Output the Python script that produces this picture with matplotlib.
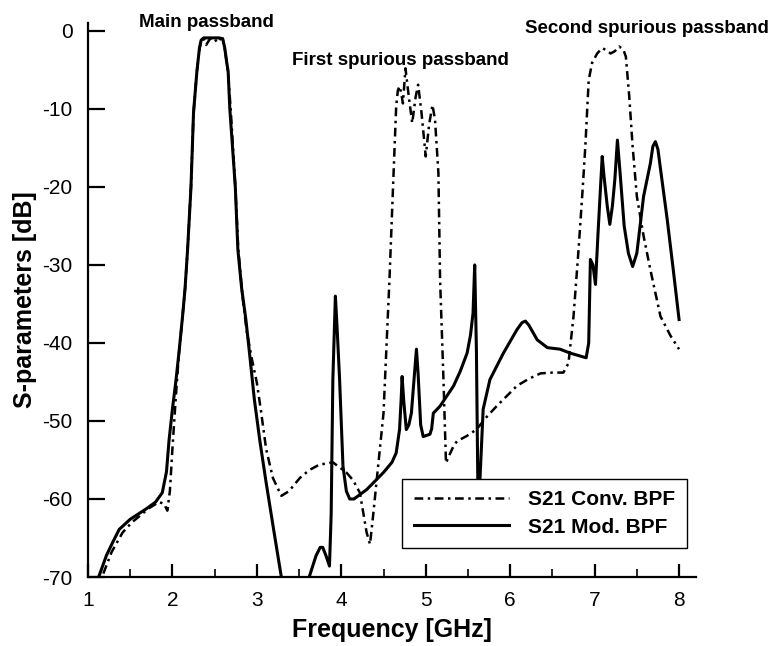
import numpy as np
import matplotlib
matplotlib.use("Agg")
import matplotlib.pyplot as plt

plt.rcParams['font.family'] = ['Liberation Sans', 'DejaVu Sans']

# S21 of the conventional band-pass filter (dash-dot)
f_conv = [1.10, 1.17, 1.28, 1.41, 1.52, 1.61, 1.72, 1.84, 1.90, 1.94, 1.97,
          2.00, 2.04, 2.08, 2.12, 2.15, 2.18, 2.22, 2.25, 2.29, 2.32, 2.34,
          2.37, 2.40, 2.44, 2.47, 2.50, 2.53, 2.57, 2.595, 2.62, 2.64, 2.66,
          2.69, 2.745, 2.78, 2.83, 2.88, 2.94, 3.00, 3.05, 3.11, 3.19, 3.29,
          3.38, 3.51, 3.62, 3.74, 3.90, 4.06, 4.14, 4.22, 4.30, 4.34, 4.38,
          4.42, 4.50, 4.57, 4.62, 4.65, 4.67, 4.69, 4.71, 4.73, 4.76, 4.80,
          4.84, 4.88, 4.91, 4.95, 5.00, 5.04, 5.08, 5.11, 5.15, 5.17, 5.21,
          5.24, 5.27, 5.33, 5.37, 5.49, 5.60, 5.72, 5.84, 5.96, 6.08, 6.22,
          6.36, 6.50, 6.63, 6.69, 6.75, 6.81, 6.86, 6.89, 6.93, 6.97, 7.03,
          7.09, 7.14, 7.19, 7.24, 7.29, 7.34, 7.37, 7.41, 7.45, 7.50, 7.58,
          7.66, 7.78, 7.90, 8.00]
s21_conv = [-72.0, -69.9, -66.8, -64.3, -63.0, -62.2, -61.2, -60.4, -60.6,
            -61.5, -59.0, -53.6, -47.0, -41.0, -36.6, -33.0, -28.0, -20.0,
            -10.5, -5.2, -2.4, -1.3, -1.0, -1.8, -1.1, -0.9, -1.0, -1.5,
            -1.0, -1.0, -2.3, -3.8, -5.5, -10.0, -20.0, -28.0, -34.0, -38.5,
            -42.0, -45.1, -48.8, -53.6, -57.3, -59.6, -59.0, -57.3, -56.3,
            -55.6, -55.3, -56.6, -57.6, -59.2, -64.3, -65.8, -61.8, -57.5,
            -49.0, -32.0, -18.0, -9.7, -7.6, -7.1, -8.0, -9.3, -4.8, -8.5,
            -11.8, -8.5, -6.9, -10.5, -16.1, -12.0, -9.5, -11.4, -18.2,
            -31.9, -44.7, -55.4, -54.6, -53.2, -52.6, -51.9, -51.1, -49.5,
            -48.1, -46.8, -45.5, -44.6, -43.9, -43.8, -43.8, -42.6, -36.6,
            -28.0, -20.0, -14.8, -6.3, -4.1, -2.9, -2.2, -2.5, -2.9, -2.6,
            -2.0, -2.4, -3.3, -8.4, -14.8, -21.2, -26.3, -30.6, -36.6, -39.1,
            -40.8]

# S21 of the modified band-pass filter (solid)
f_mod = [1.08, 1.13, 1.22, 1.30, 1.37, 1.50, 1.685, 1.80, 1.88, 1.93, 1.96,
         2.00, 2.04, 2.08, 2.12, 2.15, 2.18, 2.22, 2.25, 2.29, 2.32, 2.34,
         2.37, 2.40, 2.45, 2.50, 2.55, 2.595, 2.62, 2.64, 2.66, 2.68, 2.745,
         2.775, 2.82, 2.87, 2.92, 2.97, 3.035, 3.11, 3.20, 3.29, 3.40, 3.52,
         3.62, 3.70, 3.75, 3.78, 3.82, 3.86, 3.88, 3.90, 3.93, 3.95, 3.98,
         4.02, 4.06, 4.10, 4.15, 4.30, 4.50, 4.60, 4.65, 4.69, 4.71, 4.72,
         4.74, 4.77, 4.80, 4.83, 4.87, 4.89, 4.91, 4.94, 4.97, 5.05, 5.07,
         5.09, 5.17, 5.33, 5.41, 5.49, 5.53, 5.56, 5.58, 5.60, 5.62, 5.64,
         5.68, 5.76, 5.92, 6.08, 6.14, 6.18, 6.22, 6.32, 6.44, 6.59, 6.71,
         6.90, 6.93, 6.95, 6.98, 7.01, 7.04, 7.07, 7.09, 7.11, 7.15, 7.18,
         7.21, 7.24, 7.27, 7.30, 7.35, 7.40, 7.45, 7.50, 7.58, 7.66, 7.69,
         7.72, 7.75, 7.79, 7.86, 7.93, 8.00]
s21_mod = [-72.0, -69.9, -67.2, -65.4, -63.9, -62.6, -61.3, -60.4, -59.2,
           -56.5, -52.5, -48.5, -45.0, -41.0, -36.6, -33.0, -28.0, -20.0,
           -10.5, -5.2, -2.2, -1.2, -0.9, -0.9, -0.9, -0.9, -0.9, -1.0, -2.2,
           -3.8, -5.2, -10.0, -20.0, -28.0, -33.0, -37.0, -42.0, -47.2,
           -52.5, -57.9, -64.0, -70.0, -78.0, -78.0, -70.0, -67.3, -66.2,
           -66.2, -67.3, -68.6, -62.0, -44.7, -34.0, -38.0, -44.7, -55.8,
           -59.0, -60.0, -60.0, -58.8, -56.6, -55.3, -54.1, -51.1, -47.0,
           -44.3, -47.5, -51.1, -50.5, -49.0, -43.5, -40.8, -44.0, -50.5,
           -52.0, -51.7, -51.0, -49.0, -48.1, -45.5, -43.6, -41.3, -39.0,
           -36.2, -30.0, -40.8, -61.0, -58.0, -48.5, -44.7, -41.3, -38.3,
           -37.4, -37.2, -37.7, -39.6, -40.6, -40.8, -41.3, -41.9, -40.0,
           -29.3, -30.0, -32.5, -26.0, -20.0, -16.1, -18.5, -22.5, -24.8,
           -22.5, -19.0, -14.0, -18.0, -25.0, -28.5, -30.2, -28.5, -21.2,
           -17.0, -14.8, -14.2, -15.2, -18.5, -24.2, -30.5, -37.0]

xticks = [1, 2, 3, 4, 5, 6, 7, 8]
yticks = [0, -10, -20, -30, -40, -50, -60, -70]

fig = plt.figure(figsize=(7.75, 6.46), dpi=100)
ax = fig.add_axes([0.1135, 0.1068, 0.7845, 0.8575])

ax.plot(f_conv, s21_conv, color='black', lw=1.8,
        linestyle=(0, (3.5, 1.8, 1.0, 1.8)), label='S21 Conv. BPF')
ax.plot(f_mod, s21_mod, color='black', lw=2.2, label='S21 Mod. BPF')

ax.set_xlim(1, 8.2)
ax.set_ylim(-70, 1)
ax.set_xticks(xticks)
ax.set_xticks(np.arange(1.5, 8.0, 1.0), minor=True)
ax.set_yticks(yticks)
ax.set_yticklabels([str(v) for v in yticks])

for side in ('top', 'right'):
    ax.spines[side].set_visible(False)
for side in ('left', 'bottom'):
    ax.spines[side].set_linewidth(1.6)

ax.tick_params(axis='x', which='major', direction='in', length=9.5,
               width=1.6, labelsize=15, pad=10)
ax.tick_params(axis='x', which='minor', direction='in', length=5.5, width=1.2)
ax.tick_params(axis='y', which='major', direction='in', length=12.5,
               width=1.6, labelsize=15, pad=11)

ax.set_xlabel('Frequency [GHz]', fontsize=18, fontweight='bold', labelpad=6)
ax.set_ylabel('S-parameters [dB]', fontsize=18, fontweight='bold', labelpad=4)

ax.text(2.40, 0.55, 'Main passband', fontsize=13.5, fontweight='bold',
        ha='center', va='baseline')
ax.text(4.70, -4.35, 'First spurious passband', fontsize=13.5,
        fontweight='bold', ha='center', va='baseline')
ax.text(7.62, -0.26, 'Second spurious passband', fontsize=13.5,
        fontweight='bold', ha='center', va='baseline')

leg = ax.legend(loc='lower right', bbox_to_anchor=(0.985, 0.052),
                borderaxespad=0, fancybox=False, framealpha=1,
                edgecolor='black', handlelength=4.6, handletextpad=0.9,
                borderpad=0.55, labelspacing=0.4,
                prop={'size': 15, 'weight': 'bold'})
leg.get_frame().set_linewidth(1.0)

fig.savefig('out.png', dpi=100)
